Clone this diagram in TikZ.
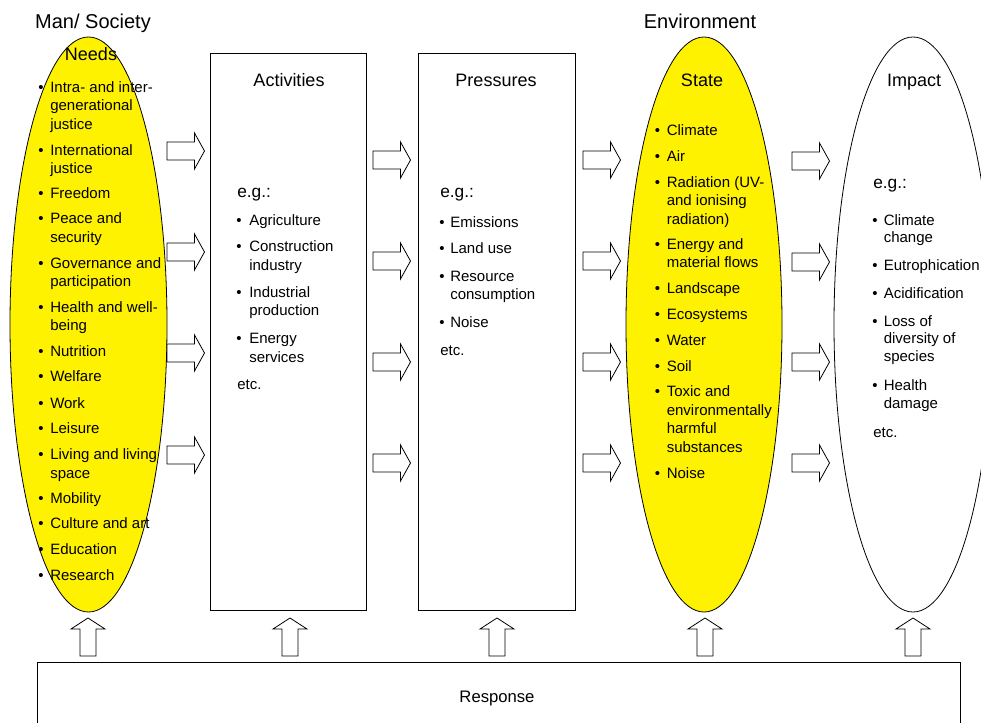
\documentclass[tikz,border=0pt]{standalone}
\usepackage{fontspec}
\setmainfont{Liberation Sans}
\usetikzlibrary{shapes.geometric}
\begin{document}
\begin{tikzpicture}[x=0.75pt,y=-0.75pt,
  every node/.style={inner sep=0pt},
  ellb/.style={draw=black, line width=0.6pt, ellipse, minimum width=117.75pt, minimum height=431.25pt},
  boxb/.style={draw=black, line width=0.75pt, anchor=north west, minimum height=417.75pt},
  title/.style={anchor=base, font=\fontsize{15}{18}\selectfont},
  head/.style={anchor=base, font=\fontsize{13.5}{16}\selectfont},
  eg/.style={anchor=base west, font=\fontsize{13}{16}\selectfont},
  txt/.style={anchor=base west, font=\fontsize{11.25}{13.5}\selectfont},
  bul/.style={anchor=base, font=\fontsize{11.25}{13.5}\selectfont},
  blk/.style={draw=black, fill=white, line width=0.6pt, line join=miter}
]
\useasboundingbox (0,0) rectangle (981,723);

% ellipses and boxes
\node[ellb, fill=yellow] (needsE) at (88.5,324.5) {};
\node[ellb, fill=yellow, minimum width=117pt] (stateE) at (704,324.5) {};
\node[ellb, minimum width=118.5pt] (impactE) at (913,324.5) {};
\node[boxb, minimum width=117pt] (actB) at (210,53) {};
\node[boxb, minimum width=117.75pt] (presB) at (418,53) {};
\node[draw=black, line width=0.75pt, anchor=north west, minimum width=692.25pt, minimum height=90pt] (respB) at (37,662) {};

% titles
\node[title] (man) at (93,29) {Man/ Society};
\node[title] (env) at (700,29) {Environment};
\node[head] (needs) at (91,61) {Needs};
\node[head] (activ) at (289,87) {Activities};
\node[head] (press) at (496,87) {Pressures};
\node[head] (state) at (702,87) {State};
\node[head] (impact) at (914,87) {Impact};
\node[anchor=base, font=\fontsize{12.5}{15}\selectfont] (resp) at (497,702) {Response};

% Needs list
\foreach \y/\b/\t [count=\i] in {93/1/Intra- and inter-, 111/0/generational, 130/0/justice,
  156/1/International, 174/0/justice, 199/1/Freedom, 224/1/Peace and, 243/0/security,
  269/1/Governance and, 287/0/participation, 313/1/Health and well-, 331/0/being,
  357/1/Nutrition, 382/1/Welfare, 408/1/Work, 433/1/Leisure, 459/1/Living and living,
  478/0/space, 503/1/Mobility, 528/1/Culture and art, 554/1/Education, 580/1/Research}{
  \ifnum\b=1 \node[bul] (nb\i) at (41,\y) {\textbullet}; \fi
  \node[txt] (n\i) at (50,\y) {\t};
}

% Activities list
\node[eg] (aeg) at (237,198) {e.g.:};
\foreach \y/\b/\t [count=\i] in {226/1/Agriculture, 252/1/Construction, 271/0/industry,
  298/1/Industrial, 316/0/production, 344/1/Energy, 363/0/services}{
  \ifnum\b=1 \node[bul] (ab\i) at (239,\y) {\textbullet}; \fi
  \node[txt] (a\i) at (249,\y) {\t};
}
\node[txt] (aetc) at (237,389) {etc.};

% Pressures list
\node[eg] (peg) at (440,198) {e.g.:};
\foreach \y/\b/\t [count=\i] in {228/1/Emissions, 254/1/Land use, 282/1/Resource,
  300/0/consumption, 328/1/Noise}{
  \ifnum\b=1 \node[bul] (pb\i) at (442,\y) {\textbullet}; \fi
  \node[txt] (p\i) at (450,\y) {\t};
}
\node[txt] (petc) at (440,356) {etc.};

% State list
\foreach \y/\b/\t [count=\i] in {136/1/Climate, 162/1/Air, 188/1/Radiation (UV-,
  206/0/and  ionising, 225/0/radiation), 250/1/Energy and, 268/0/material flows,
  294/1/Landscape, 320/1/Ecosystems, 346/1/Water, 371/1/Soil, 397/1/Toxic and,
  415/0/environmentally, 433/0/harmful, 452/0/substances, 478/1/Noise}{
  \ifnum\b=1 \node[bul] (sb\i) at (657.5,\y) {\textbullet}; \fi
  \node[txt] (s\i) at (666.5,\y) {\t};
}

% Impact list
\node[eg] (ieg) at (873,189) {e.g.:};
\foreach \y/\b/\t [count=\i] in {226/1/Climate, 243/0/change, 271/1/Eutrophication,
  299/1/Acidification, 327/1/Loss of, 344/0/diversity of, 362/0/species,
  390/1/Health, 408/0/damage}{
  \ifnum\b=1 \node[bul] (ib\i) at (875,\y) {\textbullet}; \fi
  \node[txt] (im\i) at (883.5,\y) {\t};
}
\node[txt] (ietc) at (873,437) {etc.};

% right block arrows
\foreach \x/\ys in {167/{151,252,353,455}, 373/{160,261,362,463}, 583/{160,261,362,463}, 792/{161,262,362,463}}{
  \foreach \y in \ys {
    \draw[blk] (\x,\y) ++(0,-9) -- ++(27.5,0) -- ++(0,-9) -- ++(10,18) -- ++(-10,18)
      -- ++(0,-9) -- ++(-27.5,0) -- cycle;
  }
}

% up block arrows
\foreach \x in {88,290,497,705,913}{
  \draw[blk] (\x,656) ++(-8,0) -- ++(0,-27) -- ++(-9,0) -- ++(17,-11) -- ++(17,11)
    -- ++(-9,0) -- ++(0,27) -- cycle;
}
\end{tikzpicture}
\end{document}
